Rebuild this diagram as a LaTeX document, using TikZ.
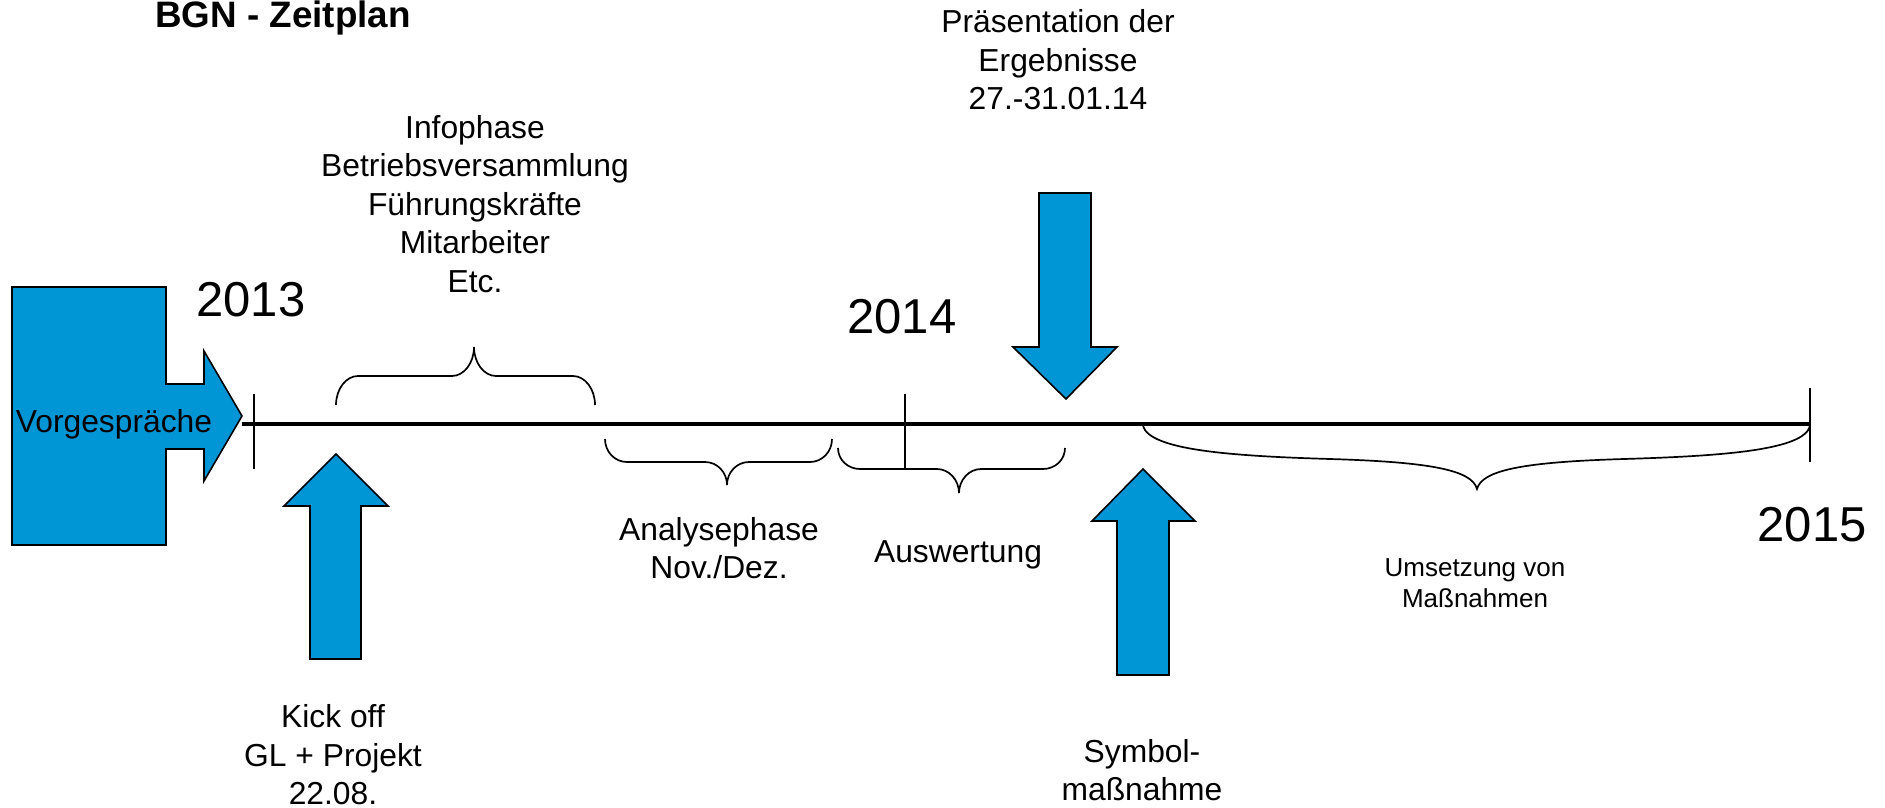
\documentclass[tikz,border=0pt]{standalone}
\usepackage{fontspec}
\setmainfont{Liberation Sans}
\definecolor{arrowblue}{RGB}{0,150,214}
\begin{document}
\begin{tikzpicture}[x=0.5pt,y=-0.5pt,
  blockarrow/.style={draw=black, line width=0.8pt, fill=arrowblue, line join=miter},
  lbl/.style={font=\fontsize{15.9}{19.25}\selectfont, align=center, inner sep=0pt},
  smalllbl/.style={font=\fontsize{13}{15.5}\selectfont, align=center, inner sep=0pt},
  yearlbl/.style={font=\fontsize{24.5}{28}\selectfont, inner sep=0pt},
  titlelbl/.style={font=\fontsize{18.4}{22}\selectfont\bfseries, inner sep=0pt},
  bracepath/.style={draw=black, line width=0.85pt},
  axisline/.style={draw=black, line width=1.65pt},
  tickline/.style={draw=black, line width=1.35pt}]
\useasboundingbox (0,0) rectangle (1885,808);

% title
\node[titlelbl, anchor=base] (title) at (283,28) {BGN - Zeitplan};

% Vorgespraeche block arrow
\draw[blockarrow] (12,287) -- (166,287) -- (166,384) -- (204,384) -- (204,351)
  -- (242,416) -- (204,481) -- (204,449) -- (166,449) -- (166,545) -- (12,545) -- cycle;
\node[lbl] (vorg) at (114,424) {Vorgespräche};

% axis
\coordinate (axstart) at (242,424);
\coordinate (axend) at (1810,424);
\draw[axisline] (axstart) -- (axend);

% ticks
\coordinate (t1a) at (254,394); \coordinate (t1b) at (254,469);
\coordinate (t2a) at (905,394); \coordinate (t2b) at (905,469);
\coordinate (t3a) at (1810,388); \coordinate (t3b) at (1810,462);
\draw[tickline] (t1a) -- (t1b);
\draw[tickline] (t2a) -- (t2b);
\draw[tickline] (t3a) -- (t3b);

% years
\node[yearlbl, anchor=base] (y2013) at (251,316) {2013};
\node[yearlbl, anchor=base] (y2014) at (902,333) {2014};
\node[yearlbl, anchor=base] (y2015) at (1812,541) {2015};

% braces
\draw[bracepath] (336,405) .. controls (336,389) and (346,376) .. (358,376) -- (452,376)
  .. controls (464,376) and (474,363) .. (474,347) .. controls (474,363) and (484,376) .. (496,376)
  -- (573,376) .. controls (585,376) and (595,389) .. (595,405);
\draw[bracepath] (605,439) .. controls (605,452) and (615,462) .. (627,462) -- (705,462)
  .. controls (717,462) and (727,472) .. (727,485) .. controls (727,472) and (737,462) .. (749,462)
  -- (810,462) .. controls (822,462) and (832,452) .. (832,439);
\draw[bracepath] (838,448) .. controls (838,460) and (848,469) .. (860,469) -- (937,469)
  .. controls (949,469) and (959,480) .. (959,493) .. controls (959,480) and (969,469) .. (981,469)
  -- (1043,469) .. controls (1055,469) and (1065,460) .. (1065,448);
\draw[bracepath] (1143,426) .. controls (1150,450) and (1230,456) .. (1330,459)
  .. controls (1430,462) and (1472,470) .. (1477,489)
  .. controls (1482,470) and (1524,462) .. (1624,459)
  .. controls (1724,456) and (1804,450) .. (1810,426);

% phase labels
\node[lbl] (info) at (475,204) {Infophase\\Betriebsversammlung\\Führungskräfte\\Mitarbeiter\\Etc.};
\node[lbl] (analyse) at (719,548) {Analysephase\\Nov./Dez.};
\node[lbl] (ausw) at (958,555) {Auswertung};
\node[smalllbl] (umsetz) at (1475,583) {Umsetzung von\\Maßnahmen};

% milestone arrows
\draw[blockarrow] (336,454) -- (388,506) -- (361,506) -- (361,659) -- (310,659) -- (310,506) -- (284,506) -- cycle;
\draw[blockarrow] (1143,469) -- (1195,521) -- (1169,521) -- (1169,675) -- (1117,675) -- (1117,521) -- (1092,521) -- cycle;
\draw[blockarrow] (1039,193) -- (1091,193) -- (1091,347) -- (1117,347) -- (1066,399) -- (1013,347) -- (1039,347) -- cycle;

% milestone labels
\node[lbl] (kick) at (333,755) {Kick off\\GL + Projekt\\22.08.};
\node[lbl] (symb) at (1142,770) {Symbol-\\maßnahme};
\node[lbl] (praes) at (1058,60) {Präsentation der\\Ergebnisse\\27.-31.01.14};
\end{tikzpicture}
\end{document}
